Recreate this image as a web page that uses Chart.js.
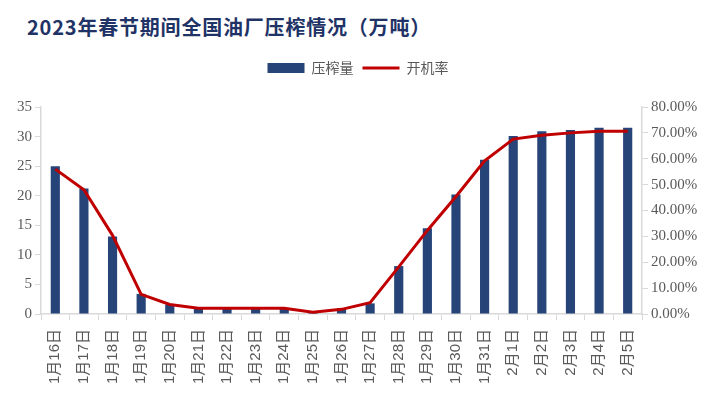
<!DOCTYPE html>
<html>
<head>
<meta charset="utf-8">
<script src="https://cdn.jsdelivr.net/npm/chart.js@4.4.1/dist/chart.umd.min.js"></script>
<style>
  html, body { margin: 0; padding: 0; background: #fff; }
  #wrap { position: relative; width: 716px; height: 405px; }
  #title {
    position: absolute; left: 27px; top: 13px;
    font: bold 20px "Noto Sans CJK SC", "Noto Sans", sans-serif;
    letter-spacing: 0.8px;
    color: #1f3366; line-height: 28px; white-space: nowrap;
  }
  canvas { position: absolute; left: 0; top: 0; }
</style>
</head>
<body>
<div id="wrap">
  <div id="title">2023年春节期间全国油厂压榨情况（万吨）</div>
  <canvas id="chart" width="716" height="405"></canvas>
</div>
<script>
// Dates over the 2023 Spring Festival period
const categories = ['1月16日', '1月17日', '1月18日', '1月19日', '1月20日', '1月21日', '1月22日',
  '1月23日', '1月24日', '1月25日', '1月26日', '1月27日', '1月28日', '1月29日', '1月30日',
  '1月31日', '2月1日', '2月2日', '2月3日', '2月4日', '2月5日'];

// 压榨量 (万吨), left axis
const crushVolume = [25, 21.2, 13.1, 3.4, 1.6, 1.0, 1.0, 1.0, 1.0, 0.4, 1.0, 1.8,
  8.1, 14.5, 20.2, 26.1, 30.1, 30.9, 31.1, 31.5, 31.5];

// 开机率 (%), right axis
const operatingRate = [56.0, 48.0, 30.4, 7.6, 3.7, 2.2, 2.2, 2.2, 2.2, 0.7, 1.8, 4.4,
  18.2, 32.3, 45.4, 59.2, 67.6, 69.1, 70.0, 70.6, 70.6];

const leftTicks = { min: 0, max: 35, step: 5 };
const rightTicks = { min: 0, max: 80, step: 10 };

const axisGrey = '#d9d9d9';
const tickGrey = '#595959';

// Extra space between the legend and the plot area
const legendSpacer = {
  id: 'legendSpacer',
  beforeLayout(chart) {
    const legend = chart.legend;
    if (legend && !legend._spaced) {
      const fit = legend.fit;
      legend.fit = function () {
        fit.call(this);
        this.height += 22;
      };
      legend._spaced = true;
    }
  }
};

const ctx = document.getElementById('chart').getContext('2d');
new Chart(ctx, {
  data: {
    labels: categories,
    datasets: [
      {
        type: 'bar',
        label: '压榨量',
        data: crushVolume,
        backgroundColor: '#264478',
        borderWidth: 0,
        barPercentage: 0.32,
        categoryPercentage: 1,
        yAxisID: 'y',
        order: 2
      },
      {
        type: 'line',
        label: '开机率',
        data: operatingRate,
        borderColor: '#c00000',
        backgroundColor: '#c00000',
        borderWidth: 3,
        pointRadius: 0,
        tension: 0,
        yAxisID: 'y1',
        order: 1
      }
    ]
  },
  plugins: [legendSpacer],
  options: {
    responsive: false,
    animation: false,
    layout: { padding: { top: 52, left: 0, right: 0, bottom: 0 } },
    plugins: {
      legend: {
        position: 'top',
        labels: {
          usePointStyle: true,
          pointStyleWidth: 37,
          boxHeight: 10,
          padding: 9,
          color: tickGrey,
          font: { family: '"Noto Sans CJK SC", sans-serif', size: 14 },
          sort: (a, b) => a.datasetIndex - b.datasetIndex,
          generateLabels: chart => {
            const items = Chart.defaults.plugins.legend.labels.generateLabels(chart);
            items.forEach(item => {
              item.pointStyle = item.datasetIndex === 0 ? 'rect' : 'line';
            });
            return items;
          }
        }
      },
      tooltip: { enabled: false }
    },
    scales: {
      x: {
        grid: { offset: true, drawOnChartArea: false, color: axisGrey, tickLength: 6 },
        border: { color: axisGrey, width: 1.5 },
        ticks: {
          minRotation: 90, maxRotation: 90, autoSkip: false, padding: 9,
          color: tickGrey,
          font: { family: '"Liberation Sans", "Noto Sans CJK SC", sans-serif', size: 15 }
        },
        afterFit: scale => { scale.height = 91; }
      },
      y: {
        position: 'left',
        min: leftTicks.min, max: leftTicks.max,
        grid: { drawOnChartArea: false, color: axisGrey, tickLength: 6 },
        border: { color: axisGrey, width: 1.5 },
        ticks: {
          stepSize: leftTicks.step, padding: 3, color: tickGrey,
          font: { family: '"Liberation Serif", serif', size: 15 }
        },
        afterFit: scale => { scale.width = 41; }
      },
      y1: {
        position: 'right',
        min: rightTicks.min, max: rightTicks.max,
        grid: { drawOnChartArea: false, color: axisGrey, tickLength: 6 },
        border: { color: axisGrey, width: 1.5 },
        ticks: {
          stepSize: rightTicks.step, padding: 3, color: tickGrey,
          font: { family: '"Liberation Serif", serif', size: 15 },
          callback: v => v.toFixed(2) + '%'
        },
        afterFit: scale => { scale.width = 74; }
      }
    }
  }
});
</script>
</body>
</html>
